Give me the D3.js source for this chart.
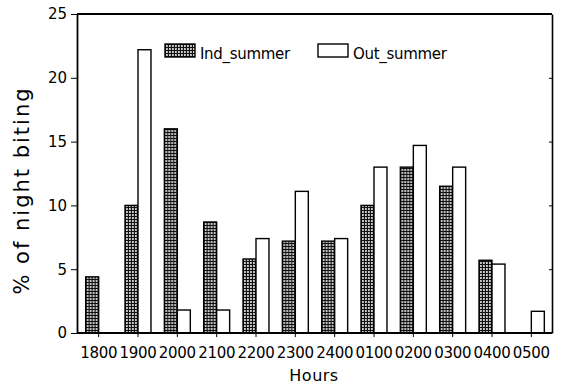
<!DOCTYPE html>
<html>
<head>
<meta charset="utf-8">
<script src="https://cdn.jsdelivr.net/npm/d3@7"></script>
<style>
  body { margin: 0; background: #fff; }
  svg { display: block; font-family: "DejaVu Sans", sans-serif; }
</style>
</head>
<body>
<div id="chart"></div>
<script>
// Данные
const hours = ["1800", "1900", "2000", "2100", "2200", "2300", "2400", "0100", "0200", "0300", "0400", "0500"];
const seriesNames = ["Ind_summer", "Out_summer"];
const indSummer = [4.4, 10.0, 16.0, 8.7, 5.8, 7.2, 7.2, 10.0, 13.0, 11.5, 5.7, 0];
const outSummer = [0, 22.2, 1.8, 1.8, 7.4, 11.1, 7.4, 13.0, 14.7, 13.0, 5.4, 1.7];
const yTicks = [0, 5, 10, 15, 20, 25];

const width = 563, height = 384;
const plotLeft = 77, plotRight = 552, plotTop = 14, plotBottom = 333;

const svg = d3.select("#chart").append("svg")
    .attr("width", width)
    .attr("height", height);

// Штриховка для Ind_summer
const pat = svg.append("defs").append("pattern")
    .attr("id", "dots")
    .attr("patternUnits", "userSpaceOnUse")
    .attr("width", 3)
    .attr("height", 3);
pat.append("rect").attr("width", 3).attr("height", 3).attr("fill", "#111");
pat.append("rect").attr("x", 1).attr("y", 1.2).attr("width", 1.8).attr("height", 1.6).attr("fill", "#fff");

const x = d3.scaleBand()
    .domain(hours)
    .range([79, 551])
    .paddingInner(0.34)
    .paddingOuter(0.17);

const x1 = d3.scaleBand()
    .domain(seriesNames)
    .range([0, x.bandwidth()]);

const y = d3.scaleLinear()
    .domain([0, 25])
    .range([plotBottom, plotTop]);

const fills = { "Ind_summer": "url(#dots)", "Out_summer": "#fff" };

const rows = hours.map((h, i) => ({
    hour: h,
    values: [
        { key: "Ind_summer", value: indSummer[i] },
        { key: "Out_summer", value: outSummer[i] }
    ]
}));

// Столбцы
svg.append("g")
    .selectAll("g")
    .data(rows)
    .enter().append("g")
    .attr("transform", d => `translate(${x(d.hour)},0)`)
    .selectAll("rect")
    .data(d => d.values.filter(v => v.value > 0))
    .enter().append("rect")
    .attr("x", d => x1(d.key))
    .attr("y", d => y(d.value))
    .attr("width", x1.bandwidth())
    .attr("height", d => plotBottom - y(d.value))
    .attr("fill", d => fills[d.key])
    .attr("stroke", "#000")
    .attr("stroke-width", 1.4);

// Оси
const xAxis = svg.append("g")
    .attr("transform", `translate(0,${plotBottom})`)
    .call(d3.axisBottom(x).tickSize(4).tickSizeOuter(0));
xAxis.select(".domain").attr("d", `M${plotLeft},0H${plotRight}`).attr("stroke-width", 1.8);
xAxis.selectAll("text")
    .attr("y", 25).attr("dy", 0)
    .style("font-size", "15px")
    .style("letter-spacing", "-0.3px")
    .style("font-family", "DejaVu Sans");

const yAxis = svg.append("g")
    .attr("transform", `translate(${plotLeft},0)`)
    .call(d3.axisLeft(y).tickValues(yTicks).tickSize(6).tickSizeOuter(0).tickPadding(4));
yAxis.select(".domain").attr("stroke-width", 1.8);
yAxis.selectAll("text")
    .style("font-size", "15px")
    .style("font-family", "DejaVu Sans");

// Рамка справа и сверху
const rAxis = svg.append("g")
    .attr("transform", `translate(${plotRight},0)`)
    .call(d3.axisRight(y).tickValues(yTicks).tickSize(-3).tickSizeOuter(0).tickFormat(""));
rAxis.select(".domain").attr("stroke-width", 1.6);

svg.append("line")
    .attr("x1", plotLeft).attr("x2", plotRight)
    .attr("y1", plotTop).attr("y2", plotTop)
    .attr("stroke", "#000")
    .attr("stroke-width", 1.8);

// Подписи осей
svg.append("text")
    .attr("transform", `translate(29,${(plotTop + plotBottom) / 2 + 17}) rotate(-90)`)
    .attr("text-anchor", "middle")
    .style("font-size", "21px")
    .style("letter-spacing", "2px")
    .text("% of night biting");

svg.append("text")
    .attr("x", 314)
    .attr("y", 381)
    .attr("text-anchor", "middle")
    .style("font-size", "16px")
    .style("letter-spacing", "0.5px")
    .text("Hours");

// Легенда
const legendX = [165, 318];
const legend = svg.append("g")
    .selectAll("g")
    .data(seriesNames)
    .enter().append("g")
    .attr("transform", (d, i) => `translate(${legendX[i]},44)`);

legend.append("rect")
    .attr("width", 30)
    .attr("height", 13)
    .attr("fill", d => fills[d])
    .attr("stroke", "#000")
    .attr("stroke-width", 1.4);

legend.append("text")
    .attr("x", 35)
    .attr("y", 15)
    .style("font-size", "15px")
    .style("letter-spacing", "-0.3px")
    .text(d => d);
</script>
</body>
</html>
